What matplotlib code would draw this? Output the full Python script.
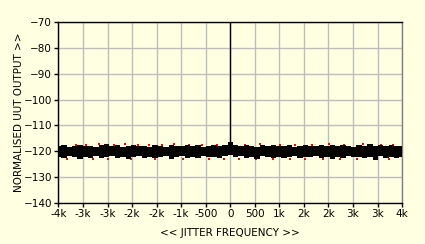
import numpy as np
import matplotlib
matplotlib.use("Agg")
import matplotlib.pyplot as plt

# noise floor envelope (125 Hz steps, -4k..4k)
freq = np.arange(-4000, 4001, 125)
upper = [-118.0, -117.6, -118.3, -117.8, -117.5, -118.1, -117.9, -118.4, -117.7,
         -117.2, -118.0, -117.6, -118.2, -117.9, -117.4, -118.1, -117.8,
         -118.3, -117.6, -117.9, -118.2, -117.5, -117.8, -118.0, -117.6,
         -118.1, -117.7, -118.2, -117.9, -117.6, -118.0, -117.4,
         -116.3,
         -117.6, -118.0, -117.5, -117.9, -118.2, -117.7, -118.0,
         -117.6, -118.1, -117.8, -117.5, -118.2, -117.9, -117.6, -118.0,
         -117.8, -117.4, -118.1, -117.7, -118.0, -117.5, -117.9, -118.2,
         -117.6, -117.9, -117.3, -118.0, -117.7, -118.1, -117.5, -117.9, -117.8]
lower = [-122.2, -122.6, -121.9, -122.4, -122.8, -122.1, -122.5, -122.0, -122.7,
         -122.3, -121.8, -122.6, -122.2, -122.9, -122.4, -121.9, -122.5,
         -122.1, -122.7, -122.3, -121.9, -123.1, -122.4, -122.0, -122.6,
         -122.2, -122.5, -121.8, -122.4, -122.1, -122.6, -122.0,
         -121.5,
         -122.3, -121.9, -122.6, -122.2, -122.8, -122.0, -122.4,
         -122.5, -122.1, -122.7, -122.3, -121.9, -122.6, -122.2, -122.4,
         -122.0, -122.6, -122.3, -122.8, -122.1, -122.5, -121.9, -122.4,
         -122.2, -122.7, -122.3, -123.4, -122.0, -122.6, -122.2, -122.5, -122.1]

# red trace peeking out at the edges
red_freq = [-3600, -3350, -3050, -2700, -2450, -2150, -1900, -1600, -1300, -950, -650, -300,
            -3800, -3200, -2850, -2300, -1750, -1100, -500, -150,
            350, 700, 1150, 1500, 1900, 2300, 2650, 3100, 3500, 3800,
            200, 600, 1000, 1400, 1750, 2150, 2550, 2950, 3350, 3700]
red_level = [-117.4, -117.6, -117.3, -117.5, -117.2, -117.6, -117.4, -117.5, -117.3, -117.6, -117.4, -117.5,
             -122.9, -123.0, -122.8, -123.1, -122.9, -122.8, -123.0, -122.9,
             -117.4, -117.3, -117.6, -117.4, -117.5, -117.3, -117.6, -117.2, -117.4, -117.5,
             -122.9, -123.1, -122.8, -123.0, -122.9, -123.1, -122.8, -123.0, -122.9, -123.1]

spike_freq = 0
spike_level = -70

xtick_labels = ["-4k", "-3k", "-3k", "-2k", "-2k", "-1k", "-500", "0",
                "500", "1k", "2k", "2k", "3k", "3k", "4k"]
yticks = [-70, -80, -90, -100, -110, -120, -130, -140]

bg = "#ffffe1"
fig = plt.figure(figsize=(4.25, 2.44), dpi=100, facecolor=bg)
ax = fig.add_axes([0.1376, 0.168, 0.8084, 0.7418], facecolor=bg)

ax.scatter(red_freq, red_level, s=1.5, marker="s", color="red", lw=0, zorder=2)
ax.fill_between(freq, lower, upper, step="mid", color="black", lw=0, zorder=3)
ax.vlines(spike_freq, -120, spike_level, color="black", lw=1, zorder=4)

ax.set_xlim(-4000, 4000)
ax.set_ylim(-140, -70)
ax.set_xticks(np.linspace(-4000, 4000, len(xtick_labels)))
ax.set_xticklabels(xtick_labels)
ax.set_yticks(yticks)
ax.grid(True, color="#bdbdbd", lw=1)
ax.set_axisbelow(True)
ax.tick_params(labelsize=7.5, length=3, width=1, pad=1.5, colors="black")

for s in ["left", "top", "bottom"]:
    ax.spines[s].set_color("black")
    ax.spines[s].set_linewidth(1)
ax.spines["right"].set_color("#808080")
ax.spines["right"].set_linewidth(1)

ax.set_xlabel("<< JITTER FREQUENCY >>", fontsize=7.5, labelpad=6)
ax.set_ylabel("NORMALISED UUT OUTPUT >>", fontsize=7.5, labelpad=0)

fig.savefig("out.png", dpi=100, facecolor=bg)
